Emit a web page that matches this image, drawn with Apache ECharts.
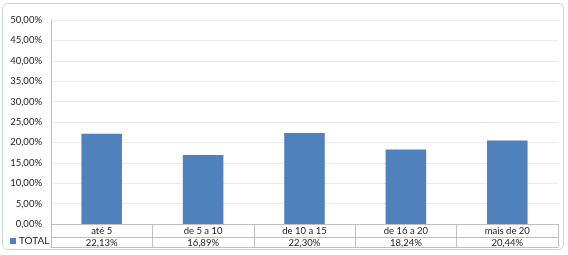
<!DOCTYPE html>
<html><head><meta charset="utf-8">
<script src="https://cdn.jsdelivr.net/npm/echarts@6/dist/echarts.min.js"></script>
<style>html,body{margin:0;padding:0;background:#fff}#c{width:568px;height:255px}</style>
</head><body><div id="c"></div>
<script>
const categories = ['até 5', 'de 5 a 10', 'de 10 a 15', 'de 16 a 20', 'mais de 20'];
const seriesName = 'TOTAL';
const values = [22.13, 16.89, 22.30, 18.24, 20.44];
const yTicks = [0, 5, 10, 15, 20, 25, 30, 35, 40, 45, 50];

const fmt = v => v.toFixed(2).replace('.', ',') + '%';
const FONT = 'Lato';
const lineCol = '#bfbfbf';
const chart = echarts.init(document.getElementById('c'), null, {renderer: 'canvas'});
chart.setOption({
  animation: false,
  textStyle: {fontFamily: FONT},
  grid: {left: 51, right: 10, top: 20, bottom: 31, containLabel: false},
  legend: {
    data: [seriesName], left: 10, top: 236, padding: 0, icon: 'rect', itemWidth: 6, itemHeight: 6, itemGap: 4,
    textStyle: {fontFamily: FONT, fontSize: 10, color: '#222', padding: [0, 0, 0, -2]},
    selectedMode: false
  },
  xAxis: [
    {
      type: 'category', data: categories, position: 'bottom',
      axisLine: {show: true, lineStyle: {color: lineCol, width: 1}},
      axisTick: {show: true, length: 13, lineStyle: {color: lineCol}},
      axisLabel: {fontFamily: FONT, fontSize: 9.5, color: '#222', margin: 2}
    },
    {
      type: 'category', data: values.map(fmt), position: 'bottom', offset: 13,
      axisLine: {show: true, lineStyle: {color: lineCol, width: 1}},
      axisTick: {show: true, length: 10, lineStyle: {color: lineCol}},
      axisLabel: {fontFamily: FONT, fontSize: 9.5, color: '#222', margin: 1}
    },
    {
      type: 'category', data: categories, position: 'bottom', offset: 23,
      axisLine: {show: true, lineStyle: {color: lineCol, width: 1}},
      axisTick: {show: false}, axisLabel: {show: false}
    }
  ],
  yAxis: {
    type: 'value', min: 0, max: 50, interval: 5,
    axisLine: {show: true, lineStyle: {color: lineCol}},
    axisTick: {show: false},
    splitLine: {show: true, lineStyle: {color: '#ebebeb'}},
    axisLabel: {fontFamily: FONT, fontSize: 9.5, color: '#222', margin: 9,
      formatter: v => yTicks.includes(v) ? fmt(v) : ''}
  },
  series: [{
    name: seriesName, type: 'bar', data: values, barWidth: '40%',
    itemStyle: {color: '#4f81bd'}, xAxisIndex: 0
  }],
  graphic: [{
    type: 'rect', silent: true, z: -1,
    shape: {x: 2.5, y: 3.5, width: 561, height: 246, r: 5},
    style: {fill: 'none', stroke: '#c9d1db', lineWidth: 1}
  }]
});
</script></body></html>
